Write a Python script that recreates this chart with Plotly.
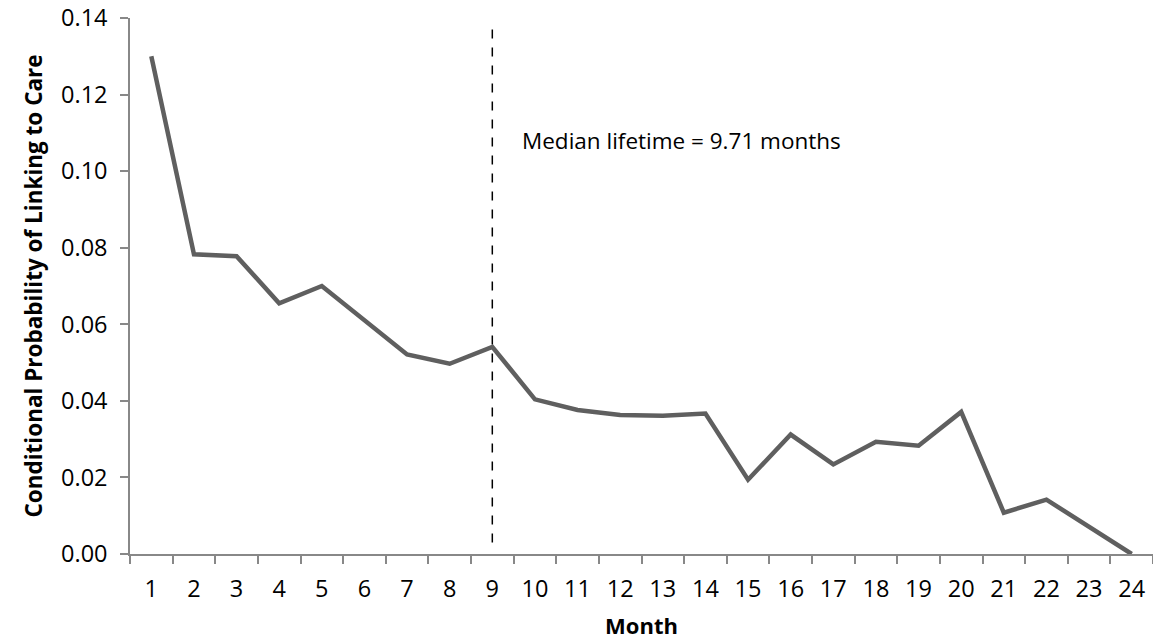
import plotly.graph_objects as go

months = [str(m) for m in range(1, 25)]
prob = [0.130, 0.0783, 0.0778, 0.0655, 0.0700, 0.0610, 0.0521, 0.0497, 0.0541,
        0.0404, 0.0376, 0.0363, 0.0361, 0.0367, 0.0194, 0.0312, 0.0234, 0.0293,
        0.0283, 0.0371, 0.0108, 0.0142, 0.0072, 0.0]
yticks = [0.00, 0.02, 0.04, 0.06, 0.08, 0.10, 0.12, 0.14]
median_month = "9"
median_text = "Median lifetime = 9.71 months"

FONT = "Open Sans"
median_idx = months.index(median_month)

fig = go.Figure()
fig.add_trace(go.Scatter(x=months, y=prob, mode="lines",
                         line=dict(color="#5f5f5f", width=4.5), showlegend=False))

fig.add_shape(type="line", x0=median_idx, x1=median_idx, y0=0.003, y1=0.139,
              xref="x", yref="y", line=dict(color="black", width=1.5, dash="dash"))
fig.add_annotation(x=median_idx + 0.65, y=0.108, xref="x", yref="y", text=median_text,
                   showarrow=False, xanchor="left", yanchor="middle",
                   font=dict(family=FONT, size=22.5, color="black"))

fig.update_layout(
    width=1153, height=642,
    margin=dict(l=130, r=0, t=18, b=88),
    paper_bgcolor="white", plot_bgcolor="white",
    font=dict(family=FONT, color="black"),
)
fig.update_xaxes(type="category", range=[-0.5, 23.5], tickson="boundaries",
                 ticks="outside", ticklen=8, tickcolor="#888888", tickwidth=1.5,
                 showline=True, linecolor="#888888", linewidth=1.5, showgrid=False,
                 automargin=False,
                 tickfont=dict(size=23.5, family=FONT), ticklabelstandoff=13,
                 title=dict(text="<b>Month</b>", font=dict(size=22, family=FONT), standoff=16))
fig.update_yaxes(range=[0, 0.14], tickvals=yticks, tickformat=".2f",
                 ticks="outside", ticklen=8, tickcolor="#888888", tickwidth=1.5,
                 showline=True, linecolor="#888888", linewidth=1.5, showgrid=False,
                 zeroline=False, automargin=False,
                 tickfont=dict(size=23.5, family=FONT), ticklabelstandoff=8,
                 title=dict(text="<b>Conditional Probability of Linking to Care</b>",
                            font=dict(size=22.5, family=FONT), standoff=12))

fig.write_html("out.html", config={"displayModeBar": False},
               post_script="document.body.style.margin='0';")
